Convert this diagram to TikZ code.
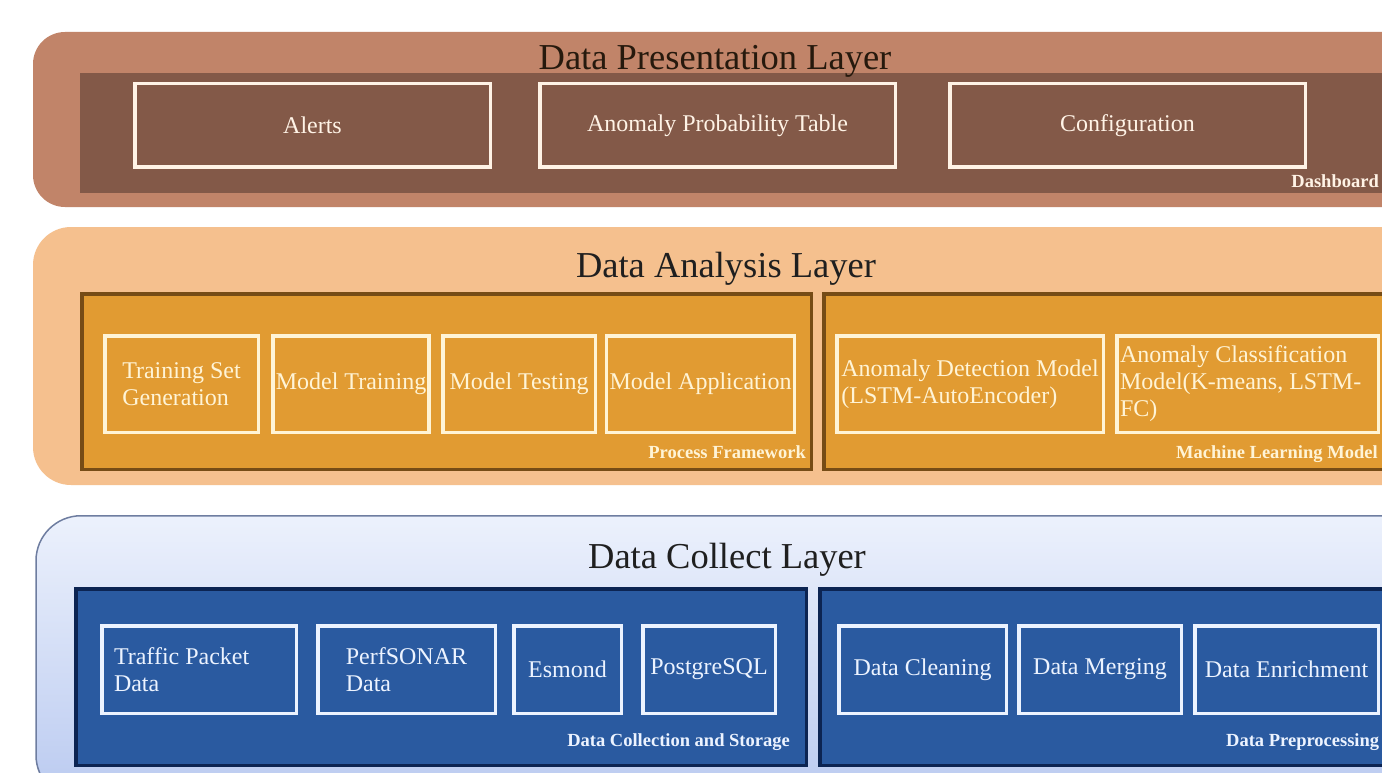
\documentclass[tikz,border=0pt]{standalone}
\usepackage{fontspec}
\setmainfont{Liberation Serif}

\definecolor{presouter}{RGB}{193,132,105}
\definecolor{presinner}{RGB}{131,89,72}
\definecolor{presline}{RGB}{255,243,230}
\definecolor{anaouter}{RGB}{245,192,142}
\definecolor{anainner}{RGB}{225,155,50}
\definecolor{anaedge}{RGB}{118,76,22}
\definecolor{analine}{RGB}{255,244,214}
\definecolor{coltop}{RGB}{236,241,252}
\definecolor{colbottom}{RGB}{186,202,240}
\definecolor{coledge}{RGB}{110,125,160}
\definecolor{colinner}{RGB}{42,90,160}
\definecolor{coldark}{RGB}{12,36,82}
\definecolor{colline}{RGB}{236,243,255}

\begin{document}
\begin{tikzpicture}[x=1pt,y=-1pt,
		layertitle/.style={anchor=base,inner sep=0pt,text=black!88,font=\fontsize{36.5}{40}\selectfont},
		box/.style={draw=#1,text=#1,line width=3.5pt,inner sep=3pt,font=\fontsize{24}{27}\selectfont},
		presbox/.style={box=presline,fill=presinner,minimum height=83.5pt},
		anabox/.style={box=analine,fill=anainner,minimum height=96.5pt},
		colbox/.style={box=colline,fill=colinner,minimum height=87.5pt},
		tag/.style={inner sep=0pt,text=#1,font=\bfseries\fontsize{18.5}{20}\selectfont},
		tag/.default=white]
		
		\clip (0,0) rectangle (1382,773);
		\fill[white] (0,0) rectangle (1382,773);
		
		%presentation layer
		\fill[presouter,rounded corners=32pt] (33,32) rectangle (1440,207);
		\fill[presinner] (80,73) rectangle (1440,193);
		\node[layertitle,text=black!80!brown] (prestitle) at (715,70) {Data Presentation Layer};
		
		\node[presbox,minimum width=355.5pt] (alerts) at (312.5,125.5) {Alerts};
		\node[presbox,minimum width=355.5pt] (probtable) at (717.5,125.5) {Anomaly Probability Table};
		\node[presbox,minimum width=355.5pt] (config) at (1127.5,125.5) {Configuration};
		\node[tag=presline,anchor=base east] (dashboard) at (1379,188) {Dashboard};
		
		%analysis layer
		\fill[anaouter,rounded corners=38pt] (33,227) rectangle (1440,485);
		\draw[anaedge,fill=anainner,line width=3.5pt] (81.75,293.75) rectangle (811.25,469.25);
		\draw[anaedge,fill=anainner,line width=3.5pt] (823.75,293.75) rectangle (1440,469.25);
		\node[layertitle] (anatitle) at (726,277) {Data Analysis Layer};
		
		\node[anabox,minimum width=153.5pt,align=flush left] (trainset) at (181.5,384) {Training Set\\Generation};
		\node[anabox,minimum width=154.5pt] (training) at (351,384) {Model Training};
		\node[anabox,minimum width=152.5pt] (testing) at (519,384) {Model Testing};
		\node[anabox,minimum width=187.5pt] (application) at (700.5,384) {Model Application};
		\node[anabox,minimum width=266.5pt,align=flush left] (detection) at (970,384) {Anomaly Detection Model\\(LSTM-AutoEncoder)};
		\node[anabox,minimum width=261.5pt,text width=255pt,align=flush left] (classification) at (1247.5,384) {Anomaly Classification\\Model(K-means, LSTM-\\FC)};
		\node[tag=analine,anchor=base east] (framework) at (806,458) {Process Framework};
		\node[tag=analine,anchor=base west] (mlmodel) at (1176,458) {Machine Learning Model};
		
		%collect layer
		\draw[coledge,line width=1.5pt,top color=coltop,bottom color=colbottom,rounded corners=45pt] (36,515.75) rectangle (1440,800);
		\draw[coldark,fill=colinner,line width=3.5pt] (75.75,588.75) rectangle (806.25,765.25);
		\draw[coldark,fill=colinner,line width=3.5pt] (819.75,588.75) rectangle (1440,765.25);
		\node[layertitle] (coltitle) at (727,568) {Data Collect Layer};
		
		\node[colbox,minimum width=194.5pt,text width=170pt,align=flush left] (traffic) at (199,669.5) {Traffic Packet\\Data};
		\node[colbox,minimum width=177.5pt,align=flush left] (perfsonar) at (406.5,669.5) {PerfSONAR\\Data};
		\node[colbox,minimum width=107.5pt] (esmond) at (567.5,669.5) {Esmond};
		\node[colbox,minimum width=132.5pt] (postgres) at (709,669.5) {PostgreSQL};
		\node[colbox,minimum width=167.5pt] (cleaning) at (922.5,669.5) {Data Cleaning};
		\node[colbox,minimum width=162.5pt] (merging) at (1100,669.5) {Data Merging};
		\node[colbox,minimum width=183.5pt] (enrichment) at (1286.5,669.5) {Data Enrichment};
		\node[tag=colline,anchor=base east] (storage) at (790,746) {Data Collection and Storage};
		\node[tag=colline,anchor=base west] (preprocessing) at (1226,746) {Data Preprocessing};
		
\end{tikzpicture}
\end{document}
